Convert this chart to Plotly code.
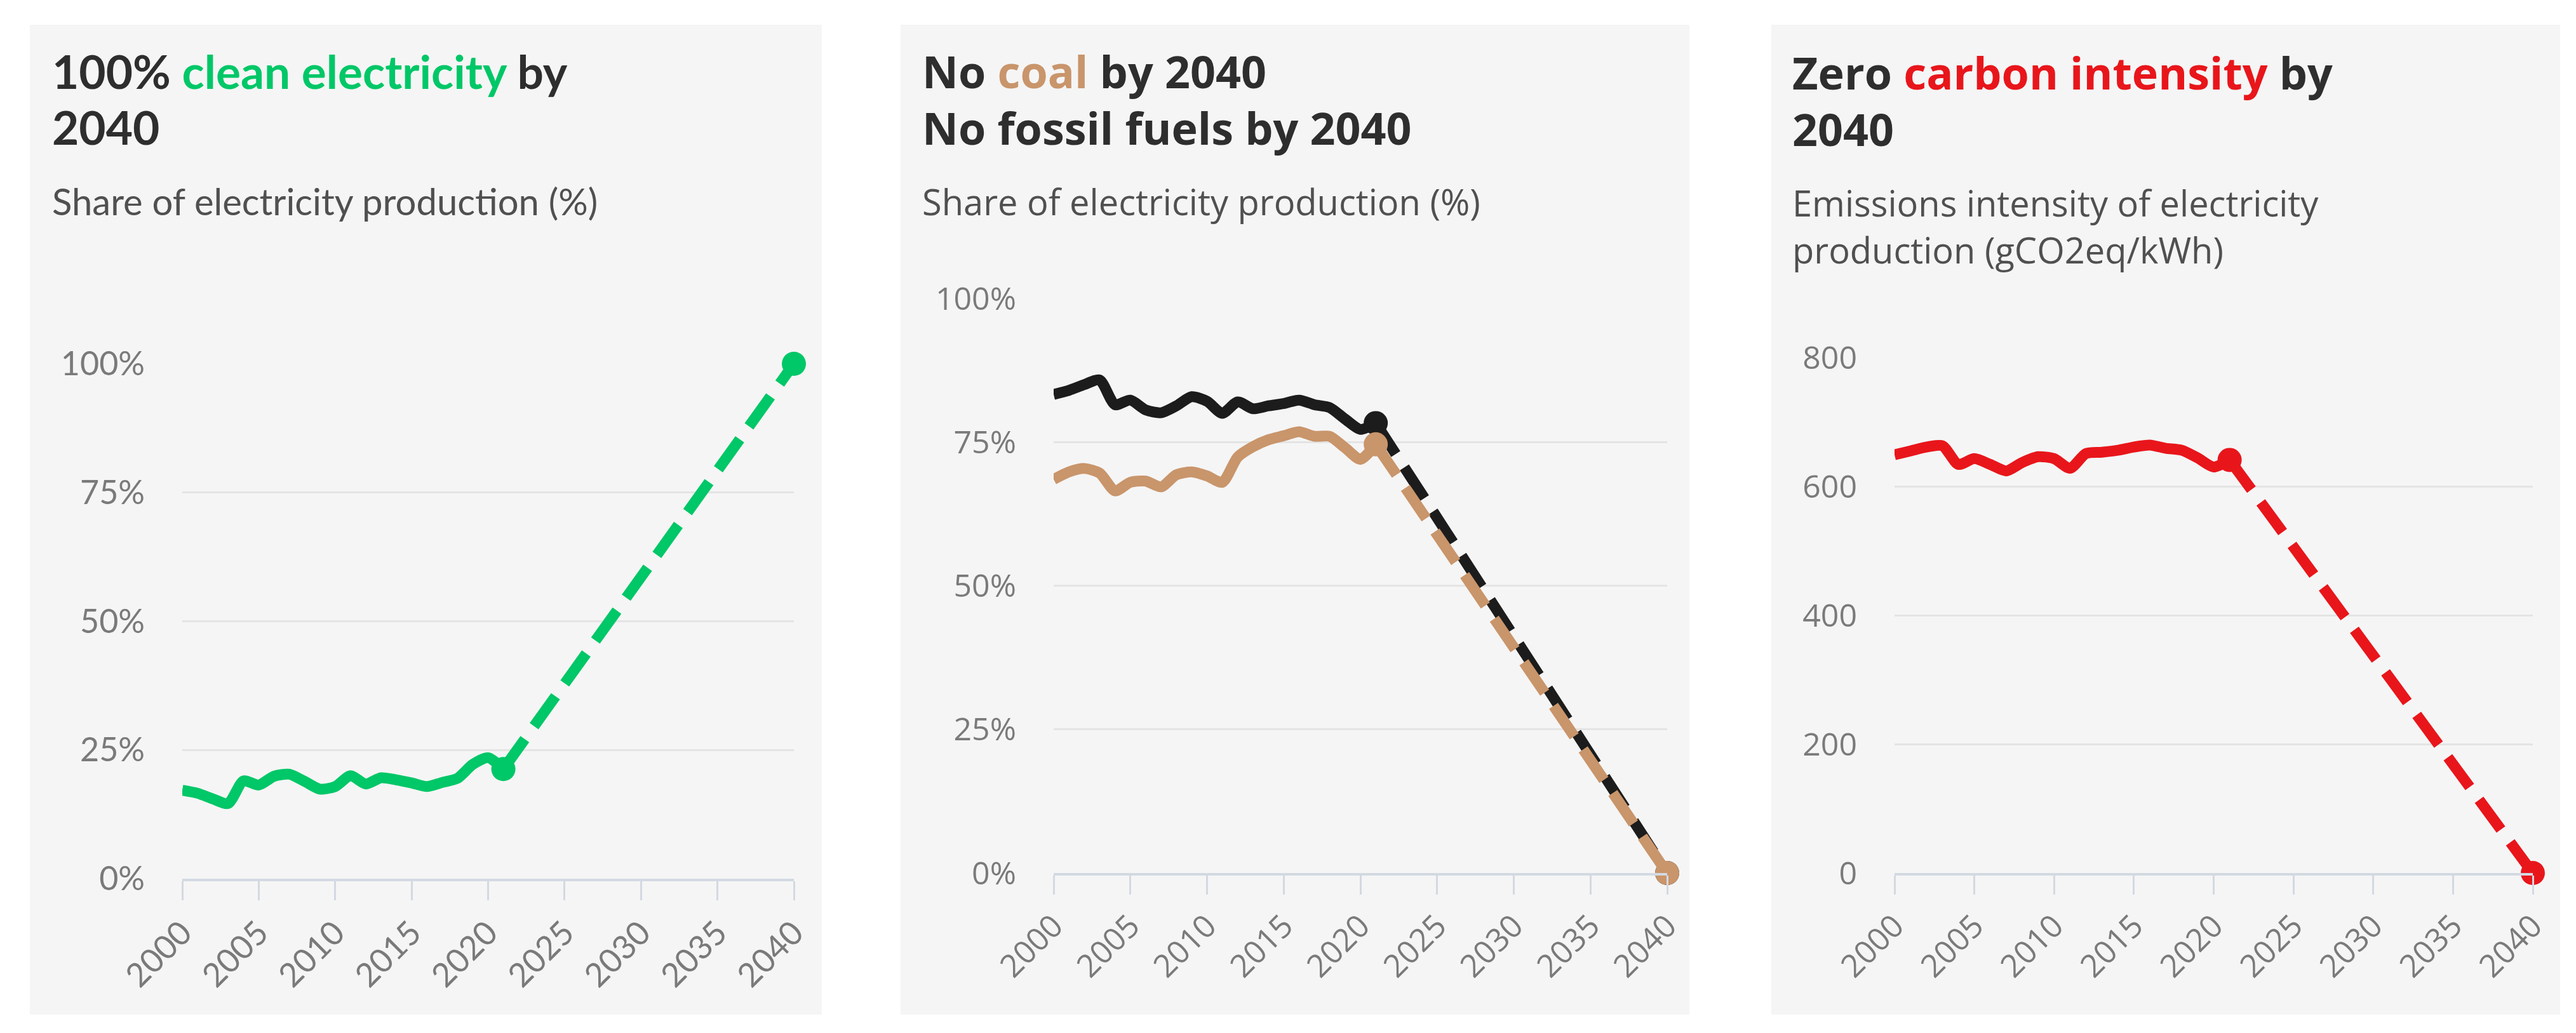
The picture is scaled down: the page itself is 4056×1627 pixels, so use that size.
import plotly.graph_objects as go

# ---------------- data ----------------
years_hist = list(range(2000, 2022))
target_year = 2040
x_tick_years = [2000, 2005, 2010, 2015, 2020, 2025, 2030, 2035, 2040]

clean_share = [17.2, 16.6, 15.5, 14.6, 19.0, 18.2, 19.9, 20.3, 18.9, 17.4, 17.9,
               20.0, 18.4, 19.6, 19.2, 18.6, 17.9, 18.7, 19.5, 22.2, 23.5, 21.3]
clean_target = 100

fossil_share = [83.3, 84.0, 85.0, 85.8, 81.5, 82.3, 80.6, 80.1, 81.3, 82.9, 82.1,
                80.0, 82.0, 80.8, 81.3, 81.7, 82.3, 81.5, 81.0, 79.0, 77.2, 78.3]
fossil_target = 0

coal_share = [68.5, 69.8, 70.4, 69.6, 66.5, 68.0, 68.2, 67.2, 69.3, 69.8, 69.1,
              68.0, 72.4, 74.2, 75.4, 76.1, 76.8, 76.0, 76.0, 74.0, 72.0, 74.6]
coal_target = 0

carbon_intensity = [649, 655, 661, 663, 634, 643, 634, 624, 637, 646, 643,
                    628, 651, 653, 656, 661, 664, 659, 656, 644, 630, 641]
carbon_target = 0

share_ticks = [0, 25, 50, 75, 100]
share_tick_labels = ["0%", "25%", "50%", "75%", "100%"]
intensity_ticks = [0, 200, 400, 600, 800]
intensity_tick_labels = ["0", "200", "400", "600", "800"]

# ---------------- styling ----------------
W, H = 4056, 1627
GREEN = "#00c767"
TAN = "#c9956b"
BLACK = "#1c1c1c"
RED = "#e8161b"
TITLE_C = "#2e2e2e"
SUB_C = "#505050"
TICK_C = "#7a7a7a"
GRID_C = "#e4e4e4"
AXIS_C = "#d3d9e2"
PANEL_BG = "#f5f5f5"

LW = 17
MS = 38
DASH = "58px,25px"


def px(xp):
    return xp / W


def py(yp):
    return 1 - yp / H


fig = go.Figure()

# panel geometry (pixels)
panels = [
    dict(box=(39, 31, 1286, 1590), x=(279, 1242), y=(1376, 565), font="Lato"),
    dict(box=(1410, 31, 2652, 1590), x=(1651, 2617), y=(1367, 462), font="Open Sans"),
    dict(box=(2781, 31, 4023, 1590), x=(2975, 3980), y=(1367, 555), font="Open Sans"),
]

shapes = []
for p in panels:
    x0, y0, x1, y1 = p["box"]
    shapes.append(dict(type="rect", xref="paper", yref="paper",
                       x0=px(x0), x1=px(x1), y0=py(y1), y1=py(y0),
                       fillcolor=PANEL_BG, line=dict(width=0), layer="below"))


def add_series(xa, ya, yvals, target, color):
    fig.add_trace(go.Scatter(x=years_hist, y=yvals, mode="lines", xaxis=xa, yaxis=ya,
                             line=dict(color=color, width=LW, shape="spline", smoothing=0.7),
                             hoverinfo="skip", showlegend=False, cliponaxis=False))
    fig.add_trace(go.Scatter(x=[years_hist[-1], target_year], y=[yvals[-1], target],
                             mode="lines", xaxis=xa, yaxis=ya,
                             line=dict(color=color, width=LW, dash=DASH),
                             hoverinfo="skip", showlegend=False, cliponaxis=False))
    fig.add_trace(go.Scatter(x=[years_hist[-1], target_year], y=[yvals[-1], target],
                             mode="markers", xaxis=xa, yaxis=ya,
                             marker=dict(color=color, size=MS, line=dict(width=0)),
                             hoverinfo="skip", showlegend=False, cliponaxis=False))


add_series("x", "y", clean_share, clean_target, GREEN)
add_series("x2", "y2", fossil_share, fossil_target, BLACK)
add_series("x2", "y2", coal_share, coal_target, TAN)
add_series("x3", "y3", carbon_intensity, carbon_target, RED)

layout_axes = {}
for i, p in enumerate(panels):
    sfx = "" if i == 0 else str(i + 1)
    fs_tick = 52 if i == 0 else 50
    layout_axes["xaxis" + sfx] = dict(
        domain=[px(p["x"][0]), px(p["x"][1])], range=[2000, 2040],
        anchor="y" + sfx, tickmode="array", tickvals=x_tick_years,
        ticktext=[str(v) for v in x_tick_years], tickangle=-45,
        ticks="outside", ticklen=30, tickwidth=3, tickcolor=AXIS_C,
        showline=True, linecolor=AXIS_C, linewidth=4, showgrid=False, zeroline=False,
        tickfont=dict(family=p["font"], size=fs_tick, color=TICK_C),
        fixedrange=True, automargin=False,
    )
    if i == 2:
        yt, ytt, yr = intensity_ticks, intensity_tick_labels, [0, 800]
    else:
        yt, ytt, yr = share_ticks, share_tick_labels, [0, 100]
    layout_axes["yaxis" + sfx] = dict(
        domain=[py(p["y"][0]), py(p["y"][1])], range=yr, anchor="x" + sfx,
        tickmode="array", tickvals=yt, ticktext=ytt,
        showgrid=True, gridcolor=GRID_C, gridwidth=3,
        zeroline=False, showline=False, ticks="", ticklabelstandoff=58,
        tickfont=dict(family=p["font"], size=fs_tick, color=TICK_C),
        fixedrange=True, automargin=False,
    )

annotations = []


def add_text(text, xpix, baseline, size, family, color, bold=False):
    annotations.append(dict(
        text=("<b>" + text + "</b>") if bold else text,
        xref="paper", yref="paper", x=px(xpix), y=py(baseline - 0.39 * size),
        xanchor="left", yanchor="middle", showarrow=False,
        font=dict(family=family, size=size, color=color)))


def colored(word, color):
    return "<span style='color:" + color + "'>" + word + "</span>"


# panel 1 text
add_text("100% " + colored("clean electricity", GREEN) + " by", 72, 132, 73,
         "Lato", TITLE_C, True)
add_text("2040", 72, 220, 73, "Lato", TITLE_C, True)
add_text("Share of electricity production (%)", 72, 331, 58, "Lato", SUB_C)

# panel 2 text
add_text("No " + colored("coal", TAN) + " by 2040", 1442, 131, 70,
         "Open Sans", TITLE_C, True)
add_text("No fossil fuels by 2040", 1442, 220, 70, "Open Sans", TITLE_C, True)
add_text("Share of electricity production (%)", 1442, 331, 56, "Open Sans", SUB_C)

# panel 3 text
add_text("Zero " + colored("carbon intensity", RED) + " by", 2812, 133, 70,
         "Open Sans", TITLE_C, True)
add_text("2040", 2812, 222, 70, "Open Sans", TITLE_C, True)
add_text("Emissions intensity of electricity", 2812, 333, 56, "Open Sans", SUB_C)
add_text("production (gCO2eq/kWh)", 2812, 407, 56, "Open Sans", SUB_C)

fig.update_layout(
    width=W, height=H, margin=dict(l=0, r=0, t=0, b=0, pad=0, autoexpand=False),
    paper_bgcolor="white", plot_bgcolor="rgba(0,0,0,0)",
    shapes=shapes, annotations=annotations, showlegend=False,
    **layout_axes,
)

fig.write_html("out.html", config={"displayModeBar": False})
